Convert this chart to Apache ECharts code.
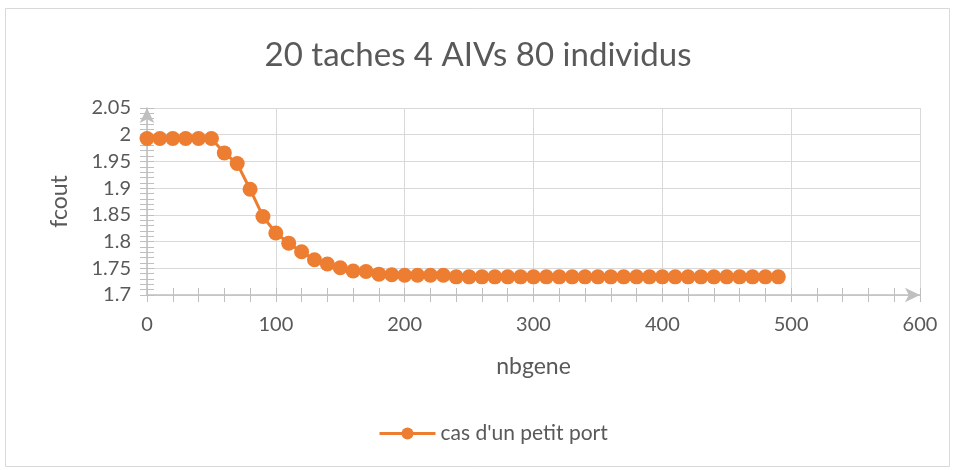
<!DOCTYPE html>
<html>
<head>
<meta charset="utf-8">
<script src="https://cdn.jsdelivr.net/npm/echarts@6/dist/echarts.min.js"></script>
<style>
  html, body { margin: 0; padding: 0; background: #ffffff; }
  #chart { width: 956px; height: 470px; }
</style>
</head>
<body>
<div id="chart"></div>
<script>
// Generations (x) and best cost per generation (y)
const nbgene = [
  0, 10, 20, 30, 40, 50, 60, 70, 80, 90,
  100, 110, 120, 130, 140, 150, 160, 170, 180, 190,
  200, 210, 220, 230, 240, 250, 260, 270, 280, 290,
  300, 310, 320, 330, 340, 350, 360, 370, 380, 390,
  400, 410, 420, 430, 440, 450, 460, 470, 480, 490
];
const fcout = [
  1.993, 1.993, 1.993, 1.993, 1.993, 1.993, 1.966, 1.946, 1.898, 1.847,
  1.816, 1.797, 1.781, 1.766, 1.758, 1.751, 1.745, 1.744, 1.739, 1.738,
  1.737, 1.737, 1.737, 1.737, 1.734, 1.734, 1.734, 1.734, 1.734, 1.734,
  1.734, 1.734, 1.734, 1.734, 1.734, 1.734, 1.734, 1.734, 1.734, 1.734,
  1.734, 1.734, 1.734, 1.734, 1.734, 1.734, 1.734, 1.734, 1.734, 1.734
];
const seriesName = "cas d'un petit port";
const chartTitle = '20 taches 4 AIVs 80 individus';

const points = nbgene.map((g, i) => [g, fcout[i]]);

const FONT = 'Lato';
const TEXT = '#595959';
const GRID = '#D9D9D9';
const AXIS = '#BFBFBF';
const ORANGE = '#ED7D31';

const chart = echarts.init(document.getElementById('chart'), null, { renderer: 'canvas' });

const tickStyle = { color: AXIS, width: 1 };

chart.setOption({
  backgroundColor: '#ffffff',
  animation: false,
  graphic: [{
    type: 'rect',
    shape: { x: 5.5, y: 8.5, width: 944, height: 458 },
    style: { fill: 'none', stroke: '#D9D9D9', lineWidth: 1 },
    silent: true,
    z: -10
  }],
  title: {
    text: chartTitle,
    left: 'center',
    top: 34,
    textStyle: { fontFamily: FONT, fontSize: 33, fontWeight: 'normal', color: TEXT }
  },
  legend: {
    bottom: 21,
    left: 373,
    itemWidth: 56,
    itemHeight: 15,
    itemGap: 6,
    lineStyle: { width: 3 },
    textStyle: { fontFamily: FONT, fontSize: 21, color: TEXT },
    data: [seriesName]
  },
  grid: { left: 147, right: 36, top: 108, bottom: 175, containLabel: false },
  xAxis: [{
    type: 'value',
    min: 0, max: 600, interval: 100,
    name: 'nbgene',
    nameLocation: 'middle',
    nameGap: 60,
    nameTextStyle: { fontFamily: FONT, fontSize: 23, color: TEXT },
    axisLine: { show: true, lineStyle: { color: AXIS, width: 1.5 }, symbol: ['none', 'arrow'], symbolSize: [11, 15], symbolOffset: [0, 0] },
    axisTick: { show: true, length: 7, lineStyle: tickStyle },
    minorTick: { show: true, splitNumber: 5, length: 7, lineStyle: tickStyle },
    axisLabel: { fontFamily: FONT, fontSize: 20, color: TEXT, margin: 20 },
    splitLine: { show: true, lineStyle: { color: GRID, width: 1 } }
  }, {
    // mirror of the bottom axis so that the ticks cross the axis line
    type: 'value',
    position: 'bottom',
    min: 0, max: 600, interval: 100,
    axisLine: { show: false },
    axisTick: { show: true, inside: true, length: 7, lineStyle: tickStyle },
    minorTick: { show: true, splitNumber: 5, length: 7, lineStyle: tickStyle },
    axisLabel: { show: false },
    splitLine: { show: false }
  }],
  yAxis: [{
    type: 'value',
    min: 1.7, max: 2.05, interval: 0.05,
    name: 'fcout',
    nameLocation: 'middle',
    nameGap: 76,
    nameTextStyle: { fontFamily: FONT, fontSize: 23, color: TEXT },
    axisLine: { show: true, lineStyle: { color: AXIS, width: 1.5 }, symbol: ['none', 'arrow'], symbolSize: [11, 15], symbolOffset: [0, 0] },
    axisTick: { show: true, length: 7, lineStyle: tickStyle },
    minorTick: { show: true, splitNumber: 5, length: 7, lineStyle: tickStyle },
    axisLabel: {
      fontFamily: FONT, fontSize: 20, color: TEXT, margin: 16,
      formatter: v => String(parseFloat(v.toFixed(2)))
    },
    splitLine: { show: true, lineStyle: { color: GRID, width: 1 } }
  }, {
    type: 'value',
    position: 'left',
    min: 1.7, max: 2.05, interval: 0.05,
    axisLine: { show: false },
    axisTick: { show: true, inside: true, length: 7, lineStyle: tickStyle },
    minorTick: { show: true, splitNumber: 5, length: 7, lineStyle: tickStyle },
    axisLabel: { show: false },
    splitLine: { show: false }
  }],
  series: [{
    name: seriesName,
    type: 'line',
    data: points,
    symbol: 'circle',
    symbolSize: 15,
    showSymbol: true,
    lineStyle: { color: ORANGE, width: 3 },
    itemStyle: { color: ORANGE, borderColor: ORANGE, borderWidth: 0 },
    z: 5
  }]
});
</script>
</body>
</html>
